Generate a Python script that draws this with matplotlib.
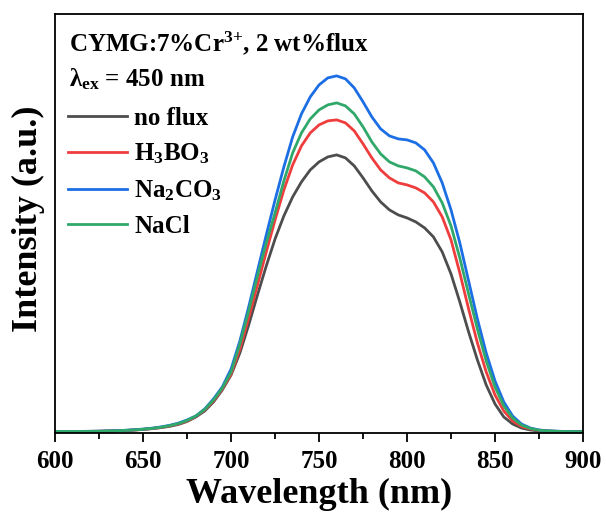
import matplotlib
matplotlib.use("Agg")
import matplotlib.pyplot as plt
import numpy as np

plt.rcParams['font.family'] = ['Liberation Serif', 'DejaVu Serif']
plt.rcParams['font.weight'] = 'bold'
plt.rcParams['mathtext.fontset'] = 'custom'
plt.rcParams['mathtext.rm'] = 'Liberation Serif:bold'
plt.rcParams['mathtext.it'] = 'Liberation Serif:bold'
plt.rcParams['mathtext.bf'] = 'Liberation Serif:bold'

# wavelength grid, 5 nm steps
wavelength = np.arange(600, 905, 5)

no_flux = [1.5, 1.5, 1.5, 1.5, 1.6, 1.7, 1.9, 2.1, 2.4, 2.9,
           3.5, 4.3, 5.3, 6.6, 8.5, 11.5, 16, 22, 31, 43,
           58, 80, 108, 138, 167, 194, 217, 236, 251, 263,
           271, 276, 278, 275, 267, 255, 242, 231, 223, 218,
           215, 211, 205, 196, 181, 159, 131, 101, 73, 48,
           29, 16, 9, 5, 3, 2, 1.6, 1.4, 1.3, 1.2, 1.2]
h3bo3 = [1.5, 1.5, 1.5, 1.5, 1.6, 1.7, 1.9, 2.2, 2.5, 3.0,
         3.6, 4.5, 5.5, 7.0, 9.0, 12, 16.5, 23, 32, 44,
         59, 84, 115, 148, 181, 213, 243, 268, 287, 300,
         308, 312, 313, 310, 302, 289, 275, 263, 255, 250,
         248, 245, 240, 231, 216, 193, 160, 124, 90, 61,
         38, 22, 12, 6.5, 4, 2.6, 2.0, 1.6, 1.4, 1.3, 1.2]
na2co3 = [1.5, 1.5, 1.5, 1.6, 1.7, 1.8, 2.0, 2.3, 2.7, 3.2,
          3.9, 4.8, 6.0, 7.6, 9.8, 13, 17, 24, 34, 46,
          64, 92, 126, 162, 198, 233, 266, 296, 319, 336,
          348, 355, 357, 354, 345, 331, 316, 304, 297, 294,
          293, 290, 283, 270, 250, 223, 190, 152, 114, 80,
          52, 31, 17, 9, 5, 3, 2.2, 1.8, 1.5, 1.3, 1.2]
nacl = [1.5, 1.5, 1.5, 1.5, 1.6, 1.7, 2.0, 2.2, 2.6, 3.1,
        3.7, 4.6, 5.7, 7.3, 9.4, 12.5, 17, 23.5, 33, 45,
        61, 89, 122, 157, 190, 220, 252, 280, 300, 314,
        323, 328, 330, 327, 319, 306, 291, 279, 271, 267,
        265, 262, 256, 246, 230, 207, 175, 139, 104, 72,
        46, 27, 15, 8, 4.5, 2.8, 2.1, 1.7, 1.4, 1.3, 1.2]

labels = ['no flux', 'H$_3$BO$_3$', 'Na$_2$CO$_3$', 'NaCl']
colors = ['#4d4d4d', '#ef3d3d', '#1c6ee4', '#30a86a']
series = [no_flux, h3bo3, na2co3, nacl]

fig = plt.figure(figsize=(6.06, 5.13), dpi=100)
ax = fig.add_axes([0.091, 0.156, 0.871, 0.817])

for y, c, lab in zip(series, colors, labels):
    ax.plot(wavelength, y, color=c, lw=2.0, label=lab, solid_joinstyle='round')

ax.set_xlim(600, 900)
ax.set_ylim(0, 419)
ax.set_xticks(np.arange(600, 901, 50))
ax.set_xticks(np.arange(600, 901, 25), minor=True)
ax.set_yticks([])
ax.tick_params(axis='x', which='major', direction='out', length=6.5, width=1.3,
               labelsize=18, pad=6)
ax.tick_params(axis='x', which='minor', direction='out', length=4, width=1.3)
for lbl in ax.get_xticklabels():
    lbl.set_fontweight('bold')
for s in ax.spines.values():
    s.set_linewidth(1.3)

ax.set_xlabel('Wavelength (nm)', fontsize=26, fontweight='bold', labelpad=3)
ax.set_ylabel('Intensity (a.u.)', fontsize=26, fontweight='bold')
ax.yaxis.set_label_coords(-0.019, 0.512)

ax.text(0.027, 0.910, 'CYMG:7%Cr$^{3{+}}$, 2 wt%flux', transform=ax.transAxes,
        fontsize=18, fontweight='bold', va='baseline', ha='left')
ax.text(0.027, 0.8265, 'λ$_{\\mathrm{ex}}$ = 450 nm', transform=ax.transAxes,
        fontsize=18, fontweight='bold', va='baseline', ha='left')

leg = ax.legend(loc='upper left', bbox_to_anchor=(0.0246, 0.778), frameon=False,
                prop={'size': 18, 'weight': 'bold'}, handlelength=2.36,
                handletextpad=0.28, labelspacing=0.48, borderaxespad=0,
                borderpad=0)

fig.savefig('out.png', dpi=100)
